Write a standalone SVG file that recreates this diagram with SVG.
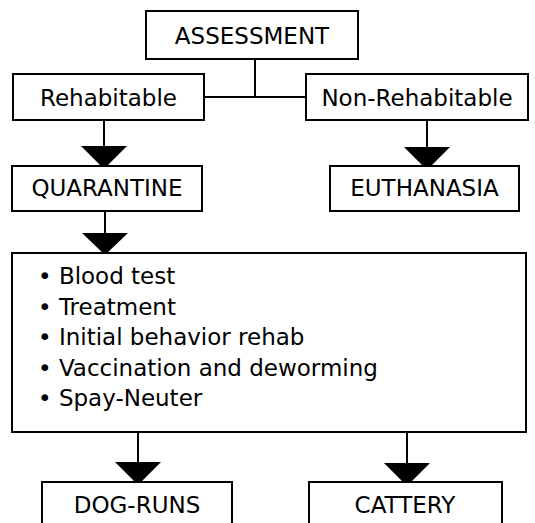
<svg xmlns="http://www.w3.org/2000/svg" width="535" height="523" viewBox="0 0 535 523">
<style>
.box{fill:#fff;stroke:#000;stroke-width:2}
.t{font-family:"DejaVu Sans",Verdana,sans-serif;font-size:23px;fill:#000}
.c{text-anchor:middle}
.ln{stroke:#000;stroke-width:2;fill:none}
.ah{fill:#000}
</style>
<rect width="535" height="523" fill="#fff"/>
<g id="connectors">
<path class="ln" d="M255,59V97M204,97H306"/>
<path class="ln" d="M104,120V147"/><polygon class="ah" points="81,146 127,146 104,169"/>
<path class="ln" d="M427,120V148"/><polygon class="ah" points="404,147 450,147 427,170"/>
<path class="ln" d="M105,211V234"/><polygon class="ah" points="82,233 128,233 105,255"/>
<path class="ln" d="M138,432V463"/><polygon class="ah" points="115,462 161,462 138,485"/>
<path class="ln" d="M407,432V464"/><polygon class="ah" points="384,463 430,463 407,486"/>
</g>
<g id="assessment"><rect class="box" x="146" y="11" width="212" height="48"/><text class="t c" x="252" y="43.5">ASSESSMENT</text></g>
<g id="rehabitable"><rect class="box" x="13" y="74" width="191" height="46"/><text class="t c" x="108.5" y="105.5">Rehabitable</text></g>
<g id="non-rehabitable"><rect class="box" x="306" y="74" width="222" height="46"/><text class="t c" x="417" y="105.5">Non-Rehabitable</text></g>
<g id="quarantine"><rect class="box" x="12" y="166" width="190" height="45"/><text class="t c" x="107" y="196">QUARANTINE</text></g>
<g id="euthanasia"><rect class="box" x="330" y="166" width="189" height="45"/><text class="t c" x="424.5" y="196">EUTHANASIA</text></g>
<g id="procedures"><rect class="box" x="12" y="253" width="514" height="179"/>
<text class="t" x="38" y="284">• Blood test</text>
<text class="t" x="38" y="314.5">• Treatment</text>
<text class="t" x="38" y="345">• Initial behavior rehab</text>
<text class="t" x="38" y="375.5">• Vaccination and deworming</text>
<text class="t" x="38" y="406">• Spay-Neuter</text>
</g>
<g id="dog-runs"><rect class="box" x="42" y="482" width="190" height="50"/><text class="t c" x="137" y="513">DOG-RUNS</text></g>
<g id="cattery"><rect class="box" x="309" y="482" width="193" height="50"/><text class="t c" x="405" y="513">CATTERY</text></g>
</svg>
